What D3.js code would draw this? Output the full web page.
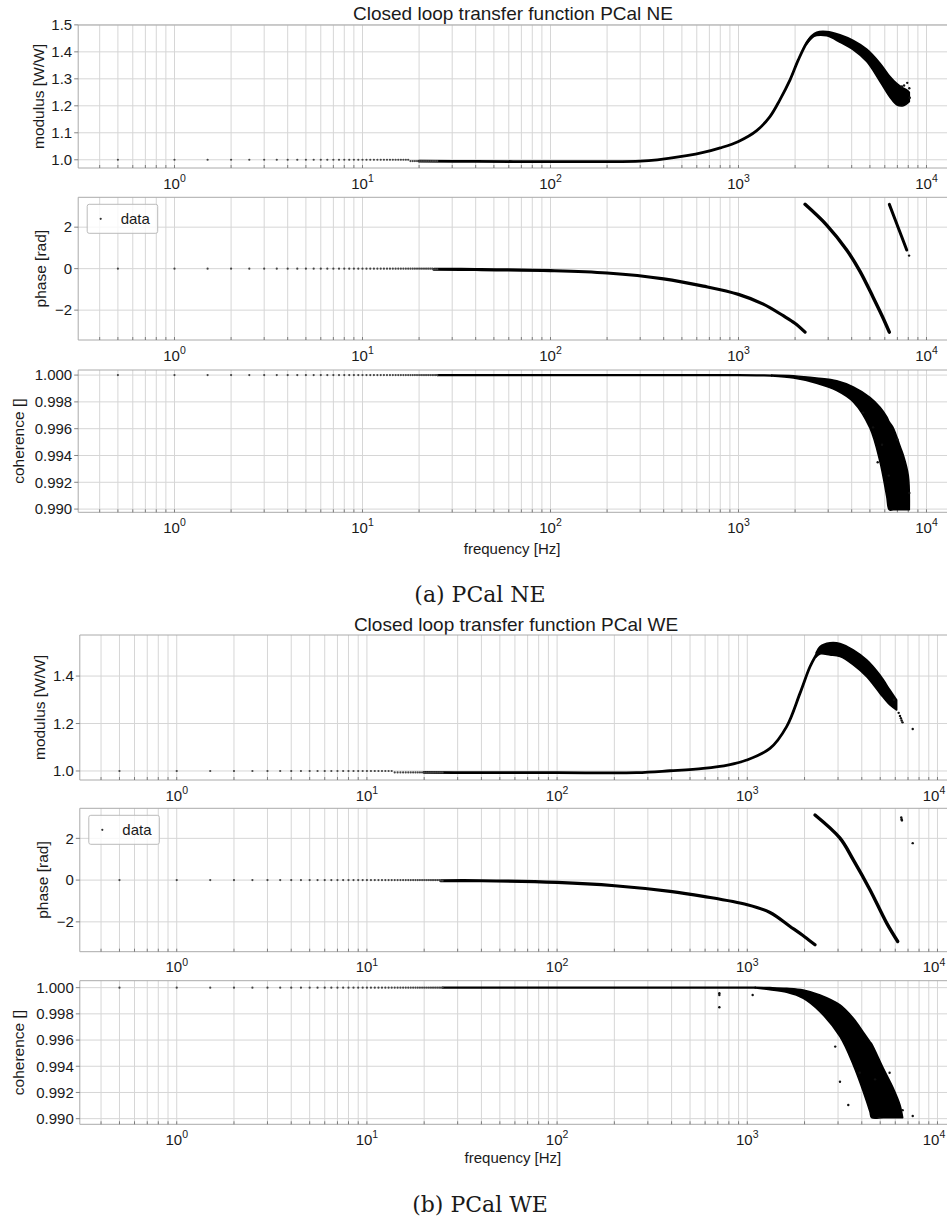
<!DOCTYPE html>
<html><head><meta charset="utf-8">
<script src="https://cdn.jsdelivr.net/npm/d3@7"></script>
<style>body{margin:0;background:#fff;} svg{display:block;}</style>
</head><body>
<svg id="c" width="947" height="1222"></svg>
<script>
// ---------------- DATA ----------------
const titles = ["Closed loop transfer function PCal NE", "Closed loop transfer function PCal WE"];
const captions = ["(a) PCal NE", "(b) PCal WE"];
const yLabels = ["modulus [W/W]", "phase [rad]", "coherence []"];
const xLabel = "frequency [Hz]";
const legendLabel = "data";

// individually resolved low-frequency bins [Hz]
const lowFreq = [0.5,1,1.5,2,2.5,3,3.5,4,4.5,5,5.5,6,6.5,7,7.5,8,8.5,9,9.5,10,10.5,11,11.5,12,12.5,13,13.5,14,14.5,15,15.5,16,16.5,17,17.5,18,18.5,19,19.5,20,20.5,21,21.5,22,22.5,23,23.5,24,24.5,25];
const modNELow   = [1,1,1,1,1,1,1,1,1,1,1,1,1,1,1,1,1,1,1,1,1,1,1,1,1,1,1,1,1,1,1,1,1,1,1,0.995,0.995,0.995,0.995,0.995,0.995,0.995,0.995,0.995,0.995,0.995,0.995,0.995,0.995,0.995];
const phaseNELow = [0,0,0,0,0,0,0,0,0,0,0,0,0,0,0,0,0,0,0,0,0,0,0,0,0,0,0,0,0,0,0,0,0,0,0,0,0,0,0,0,0,0,0,0,0,0,0,-0.03,-0.03,-0.03];
const cohNELow   = [1,1,1,1,1,1,1,1,1,1,1,1,1,1,1,1,1,1,1,1,1,1,1,1,1,1,1,1,1,1,1,1,1,1,1,1,1,1,1,1,1,1,1,1,1,1,1,1,1,1];
const modWELow   = [1,1,1,1,1,1,1,1,1,1,1,1,1,1,1,1,1,1,1,1,1,1,1,1,1,1,1,0.994,0.994,0.994,0.994,0.994,0.994,0.994,0.994,0.994,0.994,0.994,0.994,0.994,0.994,0.994,0.994,0.994,0.994,0.994,0.994,0.994,0.994,0.994];
const phaseWELow = [0,0,0,0,0,0,0,0,0,0,0,0,0,0,0,0,0,0,0,0,0,0,0,0,0,0,0,0,0,0,0,0,0,0,0,0,0,0,0,0,0,0,0,0,0,0,0,0,-0.03,-0.03];
const cohWELow   = [1,1,1,1,1,1,1,1,1,1,1,1,1,1,1,1,1,1,1,1,1,1,1,1,1,1,1,1,1,1,1,1,1,1,1,1,1,1,1,1,1,1,1,1,1,1,1,1,1,1];

// dense (merged) part of the scatter, read as a trace
const modNEFreq  = [20, 40, 100, 200, 300, 370, 530, 650, 800, 1000, 1250, 1470, 1660, 1880, 2080, 2300, 2450];
const modNEVal   = [0.995, 0.994, 0.993, 0.993, 0.995, 1.000, 1.015, 1.027, 1.044, 1.068, 1.108, 1.160, 1.222, 1.296, 1.370, 1.432, 1.455];
// scattered band: frequency, lower and upper envelope
const modNEBandF  = [2300, 2450, 2606, 2945, 3466, 4080, 4808, 5659, 6393, 6938, 7530, 7850, 8100];
const modNEBandLo = [1.428, 1.451, 1.4605, 1.4593, 1.4358, 1.4074, 1.3642, 1.2901, 1.2321, 1.2037, 1.2000, 1.2074, 1.2150];
const modNEBandHi = [1.436, 1.460, 1.4728, 1.4753, 1.4630, 1.4420, 1.4099, 1.3580, 1.3086, 1.2830, 1.2650, 1.2593, 1.2500];
const modNEOutF   = [7600, 7900, 8100, 8150, 7400];
const modNEOutV   = [1.275, 1.285, 1.265, 1.230, 1.272];

const phaseNE1F = [24, 40, 100, 200, 400, 650, 1000, 1355, 1730, 1995, 2260];
const phaseNE1V = [-0.03, -0.04, -0.095, -0.21, -0.49, -0.84, -1.24, -1.71, -2.27, -2.63, -3.06];
const phaseNE2F = [2260, 2945, 3763, 4430, 5213, 5800, 6343];
const phaseNE2V = [3.10, 2.10, 0.90, -0.13, -1.40, -2.27, -3.06];
const phaseNE3F = [6343, 7100, 7850];
const phaseNE3V = [3.10, 1.94, 0.90];
const phaseNEOutF = [8080];
const phaseNEOutV = [0.63];

const cohNEFreq = [25, 100, 1000, 1300, 1500];
const cohNEVal  = [1.0, 1.0, 1.0, 0.99998, 0.99996];
const cohNEBandF  = [1500, 1960, 2600, 3330, 4080, 5000, 5660, 6140, 6340, 6660, 7230, 7530, 8000, 8100];
const cohNEBandLo = [0.99993, 0.99978, 0.99940, 0.99885, 0.99800, 0.99605, 0.99351, 0.99097, 0.98995, 0.98995, 0.98995, 0.98995, 0.98995, 0.98995];
const cohNEBandHi = [1.00001, 0.99995, 0.99978, 0.99957, 0.99911, 0.99834, 0.99760, 0.99690, 0.99650, 0.99605, 0.99470, 0.99402, 0.99250, 0.99000];
const cohNEOutF = [5200, 5800, 6300, 7000, 8100, 4600, 5500];
const cohNEOutV = [0.9961, 0.9948, 0.9925, 0.9952, 0.9912, 0.9972, 0.9935];

const modWEFreq = [20, 35, 100, 262, 393, 587, 800, 993, 1316, 1610, 1892, 2136, 2300];
const modWEVal  = [0.994, 0.993, 0.993, 0.993, 1.001, 1.011, 1.026, 1.046, 1.095, 1.187, 1.327, 1.439, 1.488];
const modWEBandF  = [2300, 2411, 2721, 3072, 3609, 4244, 4986, 5625, 6100];
const modWEBandLo = [1.480, 1.493, 1.489, 1.482, 1.447, 1.397, 1.327, 1.278, 1.257];
const modWEBandHi = [1.498, 1.524, 1.540, 1.537, 1.510, 1.468, 1.404, 1.341, 1.299];
const modWEOutF = [6250, 6350, 6420, 6480, 6550, 7410, 5900];
const modWEOutV = [1.245, 1.232, 1.222, 1.213, 1.205, 1.177, 1.300];

const phaseWE1F = [24.5, 40, 100, 201, 393, 587, 1000, 1316, 1679, 2000, 2270];
const phaseWE1V = [-0.03, -0.03, -0.11, -0.27, -0.54, -0.78, -1.18, -1.55, -2.22, -2.71, -3.10];
const phaseWE2F = [2270, 3072, 3609, 4415, 5407, 6180];
const phaseWE2V = [3.12, 2.01, 0.97, -0.46, -2.06, -2.94];
const phaseWEOutF = [6450, 6480, 6500, 7410];
const phaseWEOutV = [3.00, 2.92, 2.86, 1.77];

const cohWEFreq = [25, 100, 1000, 1100];
const cohWEVal  = [1.0, 1.0, 1.0, 1.0];
const cohWEBandF  = [1100, 1316, 1610, 1969, 2411, 3072, 3609, 4074, 4415, 4508, 5191, 5856, 6350, 6560];
const cohWEBandLo = [0.99998, 0.99985, 0.99965, 0.99919, 0.99817, 0.99626, 0.99410, 0.99206, 0.99053, 0.99008, 0.99008, 0.99008, 0.99008, 0.99008];
const cohWEBandHi = [1.00002, 1.00000, 0.99995, 0.99982, 0.99944, 0.99868, 0.99766, 0.99660, 0.99588, 0.99570, 0.99384, 0.99232, 0.99105, 0.99008];
const cohWEOutF = [713, 713, 713, 1067, 3072, 3396, 6560, 7410, 2900, 3900, 4700, 5600];
const cohWEOutV = [0.99957, 0.99944, 0.99850, 0.99944, 0.99282, 0.99104, 0.99065, 0.99020, 0.99550, 0.99350, 0.99300, 0.99350];

const modTicksNE = [1.0, 1.1, 1.2, 1.3, 1.4, 1.5];
const modTicksWE = [1.0, 1.2, 1.4];
const phaseTicks = [-2, 0, 2];
const cohTicks = [0.990, 0.992, 0.994, 0.996, 0.998, 1.000];

// ---------------- LAYOUT ----------------
const FONT = "'Liberation Sans', Arial, Helvetica, sans-serif";
const svg = d3.select('#c');
const zip = (a, b) => a.map((d, i) => [d, b[i]]);
const zip3 = (a, b, c) => a.map((d, i) => [d, b[i], c[i]]);
const W = 947;

const figs = [
  { left: 78.2, right: 949.6, xDomain: [0.3075, 13270], titleY: 19.5, titleX: 513,
    capY: 602, xlabY: 553.5,
    panels: [
      { top: 25, bottom: 168, yDomain: [0.9695, 1.4995], ticks: modTicksNE, fmt: d3.format('.1f'), lab: 0, labX: 43.5,
        low: modNELow, lines: [[modNEFreq, modNEVal, 2.8]], bands: [[modNEBandF, modNEBandLo, modNEBandHi]], out: [modNEOutF, modNEOutV] },
      { top: 197.3, bottom: 340, yDomain: [-3.44, 3.44], ticks: phaseTicks, fmt: d3.format('d'), lab: 1, labX: 46, legend: true,
        low: phaseNELow, lines: [[phaseNE1F, phaseNE1V, 3.2], [phaseNE2F, phaseNE2V, 3.4], [phaseNE3F, phaseNE3V, 3.0]], bands: [], out: [phaseNEOutF, phaseNEOutV] },
      { top: 370, bottom: 512.3, yDomain: [0.98976, 1.00038], ticks: cohTicks, fmt: d3.format('.3f'), lab: 2, labX: 23.5,
        low: cohNELow, lines: [[cohNEFreq, cohNEVal, 2.2]], bands: [[cohNEBandF, cohNEBandLo, cohNEBandHi]], out: [cohNEOutF, cohNEOutV], xlabel: true }
    ] },
  { left: 79.8, right: 952.4, xDomain: [0.3093, 11980], titleY: 630.5, titleX: 516,
    capY: 1212, xlabY: 1163,
    panels: [
      { top: 635, bottom: 780, yDomain: [0.962, 1.573], ticks: modTicksWE, fmt: d3.format('.1f'), lab: 0, labX: 44.5,
        low: modWELow, lines: [[modWEFreq, modWEVal, 2.8]], bands: [[modWEBandF, modWEBandLo, modWEBandHi]], out: [modWEOutF, modWEOutV] },
      { top: 808.3, bottom: 951.7, yDomain: [-3.43, 3.44], ticks: phaseTicks, fmt: d3.format('d'), lab: 1, labX: 47.5, legend: true,
        low: phaseWELow, lines: [[phaseWE1F, phaseWE1V, 3.2], [phaseWE2F, phaseWE2V, 3.4]], bands: [], out: [phaseWEOutF, phaseWEOutV] },
      { top: 980.7, bottom: 1124.3, yDomain: [0.98957, 1.00053], ticks: cohTicks, fmt: d3.format('.3f'), lab: 2, labX: 23.5,
        low: cohWELow, lines: [[cohWEFreq, cohWEVal, 2.2]], bands: [[cohWEBandF, cohWEBandLo, cohWEBandHi]], out: [cohWEOutF, cohWEOutV], xlabel: true }
    ] }
];

let clipN = 0;
const fmtMinus = s => s.replace('-', '\u2212');
const smooth = d3.curveCatmullRom.alpha(0.5);

figs.forEach((F, fi) => {
  const x = d3.scaleLog().domain(F.xDomain).range([F.left, F.right]);
  svg.append('text').attr('x', F.titleX).attr('y', F.titleY).attr('text-anchor', 'middle')
    .attr('font-family', FONT).attr('font-size', 19).attr('fill', '#1a1a1a').text(titles[fi]);

  F.panels.forEach(P => {
    const y = d3.scaleLinear().domain(P.yDomain).range([P.bottom, P.top]);
    const id = 'clip' + (clipN++);
    svg.append('clipPath').attr('id', id).append('rect')
      .attr('x', F.left).attr('y', P.top).attr('width', F.right - F.left).attr('height', P.bottom - P.top);
    const g = svg.append('g');
    // grid
    const xt = x.ticks();
    g.selectAll('.vg').data(xt).join('line')
      .attr('x1', d => x(d)).attr('x2', d => x(d)).attr('y1', P.top).attr('y2', P.bottom)
      .attr('stroke', '#d6d6d6').attr('stroke-width', 1);
    g.selectAll('.hg').data(P.ticks).join('line')
      .attr('x1', F.left).attr('x2', W).attr('y1', d => y(d)).attr('y2', d => y(d))
      .attr('stroke', '#d6d6d6').attr('stroke-width', 1);
    // spines
    g.append('line').attr('x1', F.left).attr('x2', W).attr('y1', P.top).attr('y2', P.top).attr('stroke', '#aaa');
    g.append('line').attr('x1', F.left).attr('x2', W).attr('y1', P.bottom).attr('y2', P.bottom).attr('stroke', '#aaa');
    g.append('line').attr('x1', F.left).attr('x2', F.left).attr('y1', P.top).attr('y2', P.bottom).attr('stroke', '#aaa');
    // x ticks
    g.selectAll('.xt').data(xt).join('line')
      .attr('x1', d => x(d)).attr('x2', d => x(d)).attr('y1', P.bottom - 3).attr('y2', P.bottom)
      .attr('stroke', '#666').attr('stroke-width', 0.8);
    const majors = xt.filter(d => Math.abs(Math.log10(d) - Math.round(Math.log10(d))) < 1e-9);
    majors.forEach(d => {
      const e = Math.round(Math.log10(d));
      const cx = Math.min(x(d), W - 13);
      const t = g.append('text').attr('x', cx).attr('y', P.bottom + 20.5).attr('text-anchor', 'middle')
        .attr('font-family', FONT).attr('font-size', 15).attr('fill', '#1a1a1a');
      t.append('tspan').text('10');
      t.append('tspan').attr('dy', -6.5).attr('font-size', 10.5).text(String(e));
    });
    // y ticks
    g.selectAll('.yt').data(P.ticks).join('line')
      .attr('x1', F.left - 4).attr('x2', F.left).attr('y1', d => y(d)).attr('y2', d => y(d))
      .attr('stroke', '#666').attr('stroke-width', 0.8);
    g.selectAll('.yl').data(P.ticks).join('text')
      .attr('x', F.left - 6).attr('y', d => y(d) + 5.3).attr('text-anchor', 'end')
      .attr('font-family', FONT).attr('font-size', 15).attr('fill', '#1a1a1a')
      .text(d => fmtMinus(P.fmt(d)));
    // y label
    const cy = (P.top + P.bottom) / 2;
    svg.append('text').attr('transform', `translate(${P.labX},${cy}) rotate(-90)`).attr('text-anchor', 'middle')
      .attr('font-family', FONT).attr('font-size', 15.5).attr('fill', '#1a1a1a').text(yLabels[P.lab]);

    // data
    const d = svg.append('g').attr('clip-path', `url(#${id})`);
    P.bands.forEach(([bf, lo, hi]) => {
      const area = d3.area().x(p => x(p[0])).y0(p => y(p[1])).y1(p => y(p[2])).curve(smooth);
      d.append('path').attr('d', area(zip3(bf, lo, hi))).attr('fill', '#000').attr('stroke', '#000').attr('stroke-width', 1.6).attr('stroke-linejoin', 'round');
    });
    P.lines.forEach(([lf, lv, w]) => {
      const line = d3.line().x(p => x(p[0])).y(p => y(p[1])).curve(smooth);
      d.append('path').attr('d', line(zip(lf, lv))).attr('fill', 'none').attr('stroke', '#000')
        .attr('stroke-width', w).attr('stroke-linecap', 'round');
    });
    d.selectAll('.low').data(zip(lowFreq, P.low)).join('circle')
      .attr('cx', p => x(p[0])).attr('cy', p => y(p[1])).attr('r', 1.1).attr('fill', '#444');
    d.selectAll('.out').data(zip(P.out[0], P.out[1])).join('circle')
      .attr('cx', p => x(p[0])).attr('cy', p => y(p[1])).attr('r', 1.2).attr('fill', '#111');

    if (P.legend) {
      const lx = F.left + 9, ly = P.top + 7;
      svg.append('rect').attr('x', lx).attr('y', ly).attr('width', 70.5).attr('height', 29).attr('rx', 2)
        .attr('fill', 'white').attr('fill-opacity', 0.8).attr('stroke', '#bbb').attr('stroke-width', 1);
      svg.append('circle').attr('cx', lx + 13.5).attr('cy', ly + 14.5).attr('r', 1.1).attr('fill', '#333');
      svg.append('text').attr('x', lx + 33.5).attr('y', ly + 19.5).attr('font-family', FONT).attr('font-size', 15)
        .attr('fill', '#1a1a1a').text(legendLabel);
    }
    if (P.xlabel) {
      svg.append('text').attr('x', (F.left + 946) / 2).attr('y', F.xlabY).attr('text-anchor', 'middle')
        .attr('font-family', FONT).attr('font-size', 15).attr('fill', '#1a1a1a').text(xLabel);
    }
  });
  svg.append('text').attr('x', 480).attr('y', F.capY).attr('text-anchor', 'middle')
    .attr('font-family', "'DejaVu Serif', serif").attr('font-size', 22).attr('fill', '#1a1a1a').text(captions[fi]);
});
</script>
</body></html>
